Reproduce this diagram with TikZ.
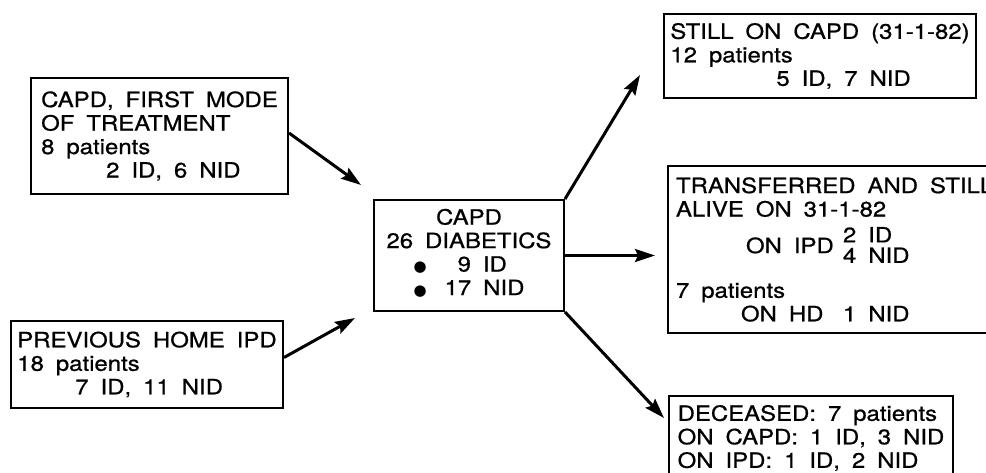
\documentclass[tikz,border=0pt]{standalone}
\usepackage{fontspec}
\setmainfont[FakeStretch=1.14,WordSpace=1.8,FakeBold=0.8]{TeX Gyre Heros}
\newfontfamily\dejavu{DejaVu Sans}
\usetikzlibrary{arrows.meta, calc}

\begin{document}
\begin{tikzpicture}[
  x=1pt, y=-1pt,
  every node/.style={font=\fontsize{21}{23.5}\selectfont},
  box/.style={rectangle, draw=black, line width=2pt, align=left,
              anchor=north west, inner xsep=0pt, inner ysep=0pt},
  flow/.style={-{Stealth[length=20pt, width=13pt, inset=3pt]}, line width=3pt}
]
  \useasboundingbox (0,0) rectangle (986,473);
  \clip (0,0) rectangle (986,473);

  % where the patients came from
  \node[box, minimum width=257pt, minimum height=116pt] (first) at (30,77)
    {CAPD, FIRST MODE\\OF TREATMENT\\8 patients\\\hspace*{65pt}2 ID, 6 NID};
  \node[box, minimum width=272pt, minimum height=87pt] (prevhome) at (10,320)
    {PREVIOUS HOME IPD\\18 patients\\\hspace*{58pt}7 ID, 11 NID};

  % the CAPD group
  \node[box, align=center, minimum width=190pt, minimum height=111pt] (capd) at (373,199)
    {CAPD\\26 DIABETICS\\
     \begin{tabular}[t]{@{}l@{\hspace{18pt}}l@{}}
       {\dejavu\fontsize{15}{15}\selectfont ●} & \hspace{13pt}9 ID\\
       {\dejavu\fontsize{15}{15}\selectfont ●} & 17 NID
     \end{tabular}};

  % outcome
  \node[box, minimum width=312pt, minimum height=84pt] (still) at (663,13)
    {STILL ON CAPD (31-1-82)\\12 patients\\\hspace*{106pt}5 ID, 7 NID};
  \node[box, inner xsep=8pt, minimum height=167pt] (transfer) at (667,165)
    {\makebox[340pt][l]{TRANSFERRED AND STILL}\\\makebox{ALIVE ON 31-1-82}\\[8pt]
     \hspace*{70pt}\makebox[97pt][l]{ON IPD}\begin{tabular}[c]{@{}l@{}}2 ID\\[-3pt]4 NID\end{tabular}\\[12pt]
     7 patients\\
     \hspace*{65pt}\makebox[102pt][l]{ON HD}1 NID};
  \node[box, minimum width=284pt, minimum height=84pt] (deceased) at (668,395)
    {DECEASED: 7 patients\\ON CAPD: 1 ID, 3 NID\\ON IPD: 1 ID, 2 NID};

  \coordinate (firstend) at (361,185);
  \coordinate (prevend)  at (355,318);
  \coordinate (stillend) at (640,75);
  \coordinate (deadend)  at (664,418);

  \draw[flow] ([yshift=3pt]first.east) -- (firstend);
  \draw[flow] ([yshift=7pt]prevhome.east) -- (prevend);
  \foreach \a/\b in {north east/stillend, south east/deadend}{
    \draw[flow] (capd.\a) -- (\b);
  }
  \draw[flow, shorten >=12pt] (capd.east) -- (capd.east -| transfer.west);
\end{tikzpicture}
\end{document}
